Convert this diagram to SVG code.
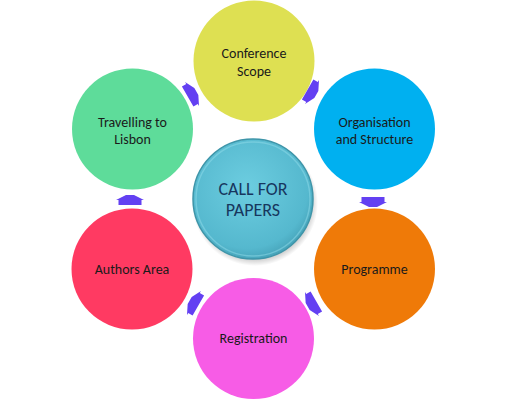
<svg xmlns="http://www.w3.org/2000/svg" width="506" height="400" viewBox="0 0 506 400">
<defs>
<style>
.lbl{font-family:Calibri,Carlito,Lato,"Liberation Sans",sans-serif;font-size:14px;fill:#1a1a1a;text-anchor:middle}
.ctr{font-family:Calibri,Carlito,Lato,"Liberation Sans",sans-serif;font-size:18px;fill:#17375E;text-anchor:middle}
.arr{fill:#6340F2}
</style>
<radialGradient id="cg" cx="0.45" cy="0.4" r="0.6">
<stop offset="0" stop-color="#6CCDE0"/>
<stop offset="0.85" stop-color="#55B8CE"/>
<stop offset="1" stop-color="#48A6BC"/>
</radialGradient>
<radialGradient id="sh" cx="0.5" cy="0.5" r="0.5">
<stop offset="0.8" stop-color="#000" stop-opacity="0.35"/>
<stop offset="1" stop-color="#000" stop-opacity="0"/>
</radialGradient>
<polygon id="ah" points="-5,-11.5 0,-11.5 0,-14 5,-4 5,4 0,14 0,11.5 -5,11.5"/>
</defs>
<rect width="506" height="400" fill="#fff"/>
<g id="conference-scope">
<circle cx="254" cy="61" r="60.5" fill="#DEE052"/>
<text class="lbl" x="254" y="58">Conference</text>
<text class="lbl" x="254" y="76">Scope</text>
</g>
<g id="organisation">
<circle cx="374.5" cy="129" r="60.5" fill="#00B0F0"/>
<text class="lbl" x="374.5" y="127">Organisation</text>
<text class="lbl" x="374.5" y="144">and Structure</text>
</g>
<g id="programme">
<circle cx="374.5" cy="269" r="60.5" fill="#EF7A08"/>
<text class="lbl" x="374.5" y="274">Programme</text>
</g>
<g id="registration">
<circle cx="253.5" cy="338.5" r="60.5" fill="#F75CE6"/>
<text class="lbl" x="253.5" y="343">Registration</text>
</g>
<g id="authors-area">
<circle cx="132" cy="269" r="60.5" fill="#FF3A62"/>
<text class="lbl" x="132" y="274">Authors Area</text>
</g>
<g id="travelling">
<circle cx="132.5" cy="129" r="60.5" fill="#5EDC9A"/>
<text class="lbl" x="132.5" y="127">Travelling to</text>
<text class="lbl" x="132.5" y="144">Lisbon</text>
</g>
<g id="call-for-papers">
<circle cx="255" cy="203" r="63" fill="url(#sh)"/>
<circle cx="253" cy="199" r="60" fill="url(#cg)" stroke="#3E95A9" stroke-width="1.5"/>
<circle cx="253" cy="199" r="57" fill="none" stroke="#8FDCEA" stroke-opacity="0.5" stroke-width="1.5"/>
<text class="ctr" x="253" y="195">CALL FOR</text>
<text class="ctr" x="253" y="216">PAPERS</text>
</g>
<g id="connectors" class="arr">
<use href="#ah" transform="translate(192,94) rotate(-30)"/>
<use href="#ah" transform="translate(312,92) rotate(30)"/>
<use href="#ah" transform="translate(373,202) rotate(90)"/>
<use href="#ah" transform="translate(312,304) rotate(150)"/>
<use href="#ah" transform="translate(194,303) rotate(210)"/>
<use href="#ah" transform="translate(130,200) rotate(-90)"/>
</g>
</svg>
